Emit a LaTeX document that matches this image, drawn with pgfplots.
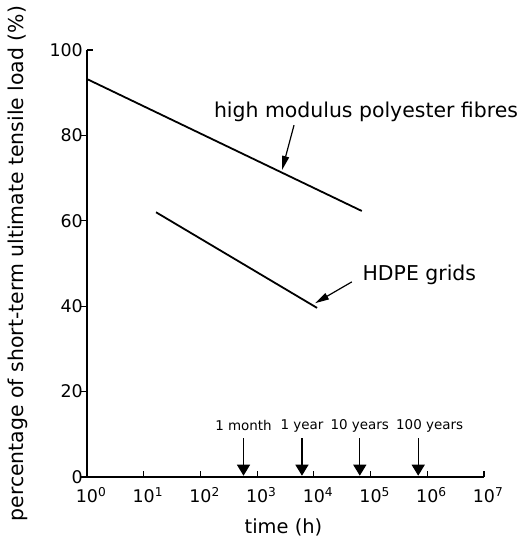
\documentclass[border=0pt]{standalone}
\usepackage{fontspec}
\setmainfont{DejaVu Sans}
\usepackage{pgfplots}
\pgfplotsset{compat=1.18}
\usetikzlibrary{arrows.meta}
\newcommand\tl[1]{\mbox{\fontsize{17.5}{19}\selectfont #1}}
\newcommand\xl[1]{\mbox{\fontsize{17.5}{19}\selectfont 10\rlap{\textsuperscript{#1}}}}
\begin{document}
\begin{tikzpicture}
\begin{axis}[
 scale only axis, width=397bp, height=427bp,
 xmode=log, xmin=1, xmax=1e7, ymin=0, ymax=100,
 axis lines*=left,
 axis line style={line width=1.2bp},
 xtick={1,10,100,1000,1e4,1e5,1e6,1e7},
 xticklabels={\xl{0},\xl{1},\xl{2},\xl{3},\xl{4},\xl{5},\xl{6},\xl{7}},
 xminorticks=false,
 ytick={0,20,40,60,80},
 yticklabels={\tl{0},\tl{20},\tl{40},\tl{60},\tl{80}},
 extra y ticks={100},
 extra y tick labels={\tl{100}},
 extra y tick style={tick style={draw=none}},
 /pgf/number format/assume math mode=true,
 xtick align=inside, ytick align=outside,
 major tick length=6bp,
 tick style={black, line width=1.2bp},
 xticklabel style={yshift=-7bp},
 yticklabel style={inner sep=0pt, xshift=2bp},
 clip=false,
]
\addplot[black, line width=1.8bp] coordinates {(1,93.2) (70000,62.3)};
\addplot[black, line width=1.8bp] coordinates {(16.5,62) (11400,39.6)};

\draw[line width=1.2bp] (rel axis cs:0,1) -- ([xshift=6bp]rel axis cs:0,1);

\node[rotate=90, font=\fontsize{20.5}{22}\selectfont] at ([xshift=-69bp]rel axis cs:0,0.5) {percentage of short-term ultimate tensile load (\%)};
\node[font=\fontsize{19.5}{21}\selectfont] at ([xshift=-2bp, yshift=-50bp]rel axis cs:0.5,0) {time (h)};

\node[font=\fontsize{20.5}{22}\selectfont] at (axis cs:83000,85.5) {high modulus polyester fibres};
\draw[line width=1.2bp, -{Triangle[length=14bp,width=7bp]}] (axis cs:4470,82.4) -- (axis cs:2750,71.9);
\node[font=\fontsize{20.5}{22}\selectfont] at (axis cs:724000,47.3) {HDPE grids};
\draw[line width=1.2bp, -{Triangle[length=14bp,width=7bp]}] (axis cs:46800,45.7) -- (axis cs:10500,40.7);

\draw[line width=1.3bp, -{Triangle[length=11bp,width=13bp]}] (axis cs:575,9.1) -- (axis cs:575,0.3);
\node[font=\fontsize{13.5}{15}\selectfont] at (axis cs:575,12) {1 month};
\draw[line width=1.3bp, -{Triangle[length=11bp,width=13bp]}] (axis cs:6170,9.1) -- (axis cs:6170,0.3);
\node[font=\fontsize{13.5}{15}\selectfont] at (axis cs:6170,12) {1 year};
\draw[line width=1.3bp, -{Triangle[length=11bp,width=13bp]}] (axis cs:64600,9.1) -- (axis cs:64600,0.3);
\node[font=\fontsize{13.5}{15}\selectfont] at (axis cs:64600,12) {10 years};
\draw[line width=1.3bp, -{Triangle[length=11bp,width=13bp]}] (axis cs:692000,9.1) -- (axis cs:692000,0.3);
\node[font=\fontsize{13.5}{15}\selectfont] at (axis cs:1100000,12) {100 years};

\coordinate (ll) at (rel axis cs:0,0);
\coordinate (ur) at (rel axis cs:1,1);
\end{axis}
\pgfresetboundingbox
\path ([shift={(-87bp,-64bp)}]ll) rectangle ([shift={(37bp,50bp)}]ur);
\end{tikzpicture}
\end{document}
